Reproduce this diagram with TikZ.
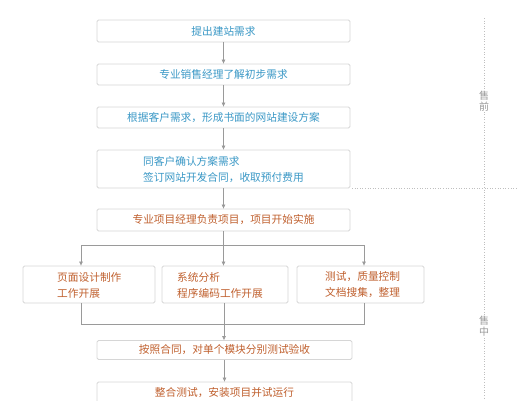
\documentclass[tikz,border=0pt]{standalone}
\usepackage{fontspec}
\setmainfont{Noto Sans CJK SC}
\usetikzlibrary{arrows.meta}
\definecolor{tblue}{HTML}{3A98C6}
\definecolor{torange}{HTML}{C0602E}
\definecolor{bline}{HTML}{D6D6D6}
\definecolor{aline}{HTML}{9A9A9A}
\begin{document}
\begin{tikzpicture}[x=1pt,y=-1pt,
  box/.style={draw=bline,line width=0.8pt,rounded corners=1.5pt,fill=white,inner sep=0pt,font=\fontsize{10.7}{15}\selectfont},
  mainbox/.style={box,minimum width=253pt},
  bl/.style={text=tblue},
  og/.style={text=torange},
  ml/.style={anchor=west,align=left,inner sep=0pt,font=\fontsize{10.7}{16}\selectfont},
  arr/.style={draw=aline,line width=0.7pt,-{Triangle[length=4pt,width=3.5pt]}},
  ln/.style={draw=aline,line width=0.7pt},
  dots/.style={draw=gray!50,line width=0.6pt,dotted},
  side/.style={text=gray!80,font=\fontsize{10}{11}\selectfont,fill=white,inner sep=1pt,align=center}
]
\useasboundingbox (0,0) rectangle (517,400);
\node[mainbox,bl,minimum height=22pt] (b1) at (223.5,31) {提出建站需求};
\node[mainbox,bl,minimum height=21pt] (b2) at (223.5,74.5) {专业销售经理了解初步需求};
\node[mainbox,bl,minimum height=21pt] (b3) at (223.5,117.5) {根据客户需求，形成书面的网站建设方案};
\node[mainbox,bl,minimum height=38pt] (b4) at (223.5,169) {};
\node[ml,bl] (b4t) at (143,170) {同客户确认方案需求\\签订网站开发合同，收取预付费用};
\node[mainbox,og,minimum height=22pt] (b5) at (223.5,220) {专业项目经理负责项目，项目开始实施};
\node[box,minimum width=132pt,minimum height=37pt] (ba) at (89,284.5) {};
\node[ml,og] (bat) at (57,285) {页面设计制作\\工作开展};
\node[box,minimum width=126pt,minimum height=37pt] (bb) at (225,284.5) {};
\node[ml,og] (bbt) at (177,285) {系统分析\\程序编码工作开展};
\node[box,minimum width=127pt,minimum height=37pt] (bc) at (360.5,284.5) {};
\node[ml,og] (bct) at (325,285) {测试，质量控制\\文档搜集，整理};
\node[box,og,minimum width=255pt,minimum height=19pt] (b6) at (224.5,350) {按照合同，对单个模块分别测试验收};
\node[box,og,minimum width=255pt,minimum height=22pt] (b7) at (224.5,393) {整合测试，安装项目并试运行};
% connectors
\draw[arr] (b1) -- (b2);
\draw[arr] (b2) -- (b3);
\draw[arr] (b3) -- (b4);
\draw[arr] (b4) -- (b5);
\coordinate (sp) at (223.5,245);
\coordinate (spl) at (81,245);
\coordinate (spr) at (364,245);
\draw[ln] (b5.south) -- (sp);
\draw[ln] (spl) -- (spr);
\draw[arr] (sp) -- (sp |- bb.north);
\draw[arr] (spl) -- (spl |- ba.north);
\draw[arr] (spr) -- (spr |- bc.north);
\coordinate (mgl) at (81,324);
\coordinate (mgr) at (364,324);
\draw[ln] (mgl |- ba.south) -- (mgl) -- (mgr) -- (mgr |- bc.south);
\draw[arr] (bb.south -| 224,0) -- (b6.north -| 224,0);
\draw[arr] (b6) -- (b7);
% side
\coordinate (vt) at (484,18);
\coordinate (vb) at (484,400);
\coordinate (hl) at (352,188);
\coordinate (hr) at (517,188);
\draw[dots] (vt) -- (vb);
\draw[dots] (hl) -- (hr);
\node[side] (pre) at (484,101) {售\\前};
\node[side] (mid) at (484,326) {售\\中};
\end{tikzpicture}
\end{document}
